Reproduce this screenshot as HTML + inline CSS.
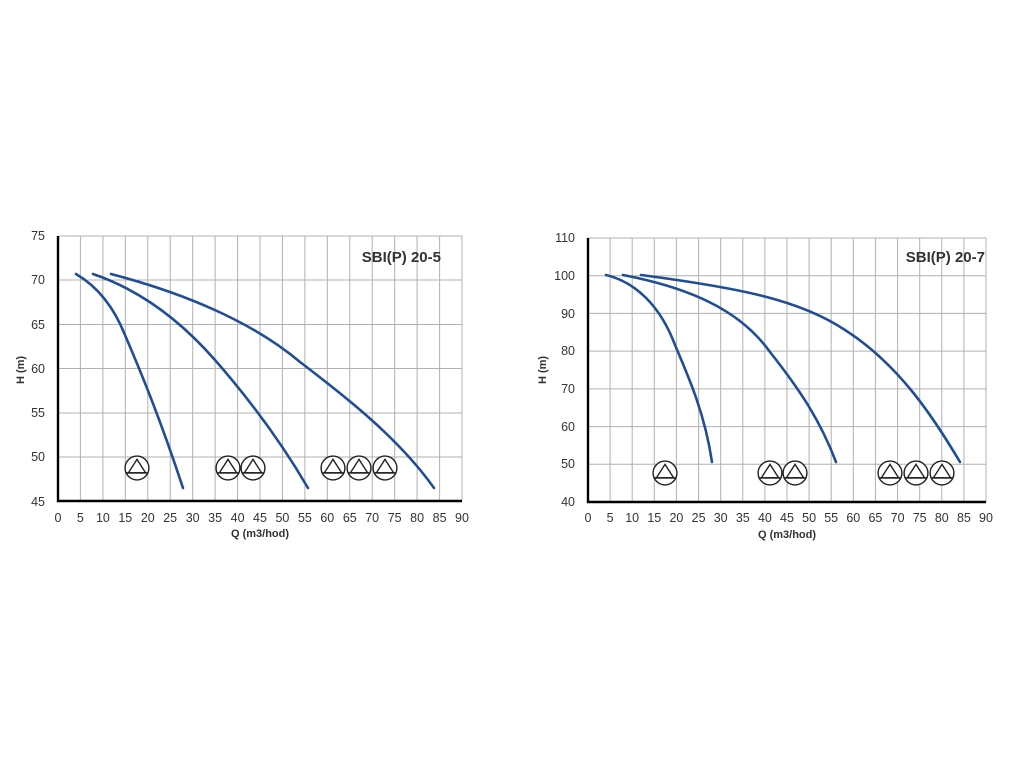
<!DOCTYPE html>
<html><head><meta charset="utf-8"><style>
html,body{margin:0;padding:0;background:#fff;}
svg{display:block;}
text{font-family:"Liberation Sans",sans-serif;fill:#333;}
</style></head><body>
<svg width="1024" height="768" viewBox="0 0 1024 768" xmlns="http://www.w3.org/2000/svg">
<defs>
<symbol id="pump" viewBox="-12 -12 24 24">
<circle cx="0" cy="0" r="11" fill="#fff" stroke="#222" stroke-width="1.3"/>
<polygon points="0,-8 -8,4.5 8,4.5" fill="none" stroke="#222" stroke-width="1.3"/>
<line x1="-10.5" y1="4.5" x2="10.5" y2="4.5" stroke="#222" stroke-width="1.3"/>
</symbol>
</defs>
<!-- LEFT CHART -->
<g stroke="#b0b0b0" stroke-width="1">
<line x1="58" y1="236" x2="462" y2="236"/><line x1="58" y1="280" x2="462" y2="280"/>
<line x1="58" y1="324.5" x2="462" y2="324.5"/><line x1="58" y1="368.5" x2="462" y2="368.5"/>
<line x1="58" y1="413" x2="462" y2="413"/><line x1="58" y1="457" x2="462" y2="457"/>
<line x1="80.4" y1="236" x2="80.4" y2="501"/><line x1="102.9" y1="236" x2="102.9" y2="501"/>
<line x1="125.3" y1="236" x2="125.3" y2="501"/><line x1="147.8" y1="236" x2="147.8" y2="501"/>
<line x1="170.2" y1="236" x2="170.2" y2="501"/><line x1="192.7" y1="236" x2="192.7" y2="501"/>
<line x1="215.1" y1="236" x2="215.1" y2="501"/><line x1="237.6" y1="236" x2="237.6" y2="501"/>
<line x1="260" y1="236" x2="260" y2="501"/><line x1="282.4" y1="236" x2="282.4" y2="501"/>
<line x1="304.9" y1="236" x2="304.9" y2="501"/><line x1="327.3" y1="236" x2="327.3" y2="501"/>
<line x1="349.8" y1="236" x2="349.8" y2="501"/><line x1="372.2" y1="236" x2="372.2" y2="501"/>
<line x1="394.7" y1="236" x2="394.7" y2="501"/><line x1="417.1" y1="236" x2="417.1" y2="501"/>
<line x1="439.6" y1="236" x2="439.6" y2="501"/><line x1="462" y1="236" x2="462" y2="501"/>
</g>
<path d="M58 236 V501 H462" fill="none" stroke="#000" stroke-width="2.4"/>
<g font-size="12.5" text-anchor="end">
<text x="45" y="240">75</text><text x="45" y="284">70</text><text x="45" y="329">65</text>
<text x="45" y="373">60</text><text x="45" y="417">55</text><text x="45" y="461">50</text><text x="45" y="506">45</text>
</g>
<g font-size="12.5" text-anchor="middle">
<text x="58" y="522">0</text><text x="80.4" y="522">5</text><text x="102.9" y="522">10</text><text x="125.3" y="522">15</text>
<text x="147.8" y="522">20</text><text x="170.2" y="522">25</text><text x="192.7" y="522">30</text><text x="215.1" y="522">35</text>
<text x="237.6" y="522">40</text><text x="260" y="522">45</text><text x="282.4" y="522">50</text><text x="304.9" y="522">55</text>
<text x="327.3" y="522">60</text><text x="349.8" y="522">65</text><text x="372.2" y="522">70</text><text x="394.7" y="522">75</text>
<text x="417.1" y="522">80</text><text x="439.6" y="522">85</text><text x="462" y="522">90</text>
</g>
<text x="260" y="537" font-size="11" font-weight="bold" text-anchor="middle" fill="#111">Q (m3/hod)</text>
<text transform="translate(24,370) rotate(-90)" font-size="11" font-weight="bold" text-anchor="middle" fill="#111">H (m)</text>
<text x="441" y="262" font-size="15" font-weight="bold" text-anchor="end" fill="#444">SBI(P) 20-5</text>
<g fill="none" stroke="#1f4e96" stroke-width="2.6" stroke-linejoin="round" stroke-linecap="round">
<path d="M76 274 C100 288 115 310 125 335 C140 370 160 418 183 488"/>
<path d="M93 274 C140 290 180 320 215 360 C250 400 280 440 308 488"/>
<path d="M111 274 C180 292 250 320 300 362 C350 400 400 440 434 488"/>
</g>
<use href="#pump" x="124" y="455" width="26" height="26"/>
<use href="#pump" x="215" y="455" width="26" height="26"/>
<use href="#pump" x="240" y="455" width="26" height="26"/>
<use href="#pump" x="320" y="455" width="26" height="26"/>
<use href="#pump" x="346" y="455" width="26" height="26"/>
<use href="#pump" x="372" y="455" width="26" height="26"/>

<!-- RIGHT CHART -->
<g stroke="#b0b0b0" stroke-width="1">
<line x1="588" y1="238" x2="986" y2="238"/><line x1="588" y1="275.7" x2="986" y2="275.7"/>
<line x1="588" y1="313.4" x2="986" y2="313.4"/><line x1="588" y1="351.1" x2="986" y2="351.1"/>
<line x1="588" y1="388.9" x2="986" y2="388.9"/><line x1="588" y1="426.6" x2="986" y2="426.6"/>
<line x1="588" y1="464.3" x2="986" y2="464.3"/>
<line x1="610.1" y1="238" x2="610.1" y2="502"/><line x1="632.2" y1="238" x2="632.2" y2="502"/>
<line x1="654.3" y1="238" x2="654.3" y2="502"/><line x1="676.4" y1="238" x2="676.4" y2="502"/>
<line x1="698.6" y1="238" x2="698.6" y2="502"/><line x1="720.7" y1="238" x2="720.7" y2="502"/>
<line x1="742.8" y1="238" x2="742.8" y2="502"/><line x1="764.9" y1="238" x2="764.9" y2="502"/>
<line x1="787" y1="238" x2="787" y2="502"/><line x1="809.1" y1="238" x2="809.1" y2="502"/>
<line x1="831.2" y1="238" x2="831.2" y2="502"/><line x1="853.3" y1="238" x2="853.3" y2="502"/>
<line x1="875.4" y1="238" x2="875.4" y2="502"/><line x1="897.6" y1="238" x2="897.6" y2="502"/>
<line x1="919.7" y1="238" x2="919.7" y2="502"/><line x1="941.8" y1="238" x2="941.8" y2="502"/>
<line x1="963.9" y1="238" x2="963.9" y2="502"/><line x1="986" y1="238" x2="986" y2="502"/>
</g>
<path d="M588 238 V502 H986" fill="none" stroke="#000" stroke-width="2.4"/>
<g font-size="12.5" text-anchor="end">
<text x="575" y="242">110</text><text x="575" y="280">100</text><text x="575" y="318">90</text>
<text x="575" y="355">80</text><text x="575" y="393">70</text><text x="575" y="431">60</text>
<text x="575" y="468">50</text><text x="575" y="506">40</text>
</g>
<g font-size="12.5" text-anchor="middle">
<text x="588" y="522">0</text><text x="610.1" y="522">5</text><text x="632.2" y="522">10</text><text x="654.3" y="522">15</text>
<text x="676.4" y="522">20</text><text x="698.6" y="522">25</text><text x="720.7" y="522">30</text><text x="742.8" y="522">35</text>
<text x="764.9" y="522">40</text><text x="787" y="522">45</text><text x="809.1" y="522">50</text><text x="831.2" y="522">55</text>
<text x="853.3" y="522">60</text><text x="875.4" y="522">65</text><text x="897.6" y="522">70</text><text x="919.7" y="522">75</text>
<text x="941.8" y="522">80</text><text x="963.9" y="522">85</text><text x="986" y="522">90</text>
</g>
<text x="787" y="538" font-size="11" font-weight="bold" text-anchor="middle" fill="#111">Q (m3/hod)</text>
<text transform="translate(546,370) rotate(-90)" font-size="11" font-weight="bold" text-anchor="middle" fill="#111">H (m)</text>
<text x="985" y="262" font-size="15" font-weight="bold" text-anchor="end" fill="#444">SBI(P) 20-7</text>
<g fill="none" stroke="#1f4e96" stroke-width="2.6" stroke-linejoin="round" stroke-linecap="round">
<path d="M606 275 C635 282 660 305 675 345 C690 380 705 415 712 462"/>
<path d="M623 275 C690 288 740 310 770 352 C800 390 820 420 836 462"/>
<path d="M641 275 C740 288 800 300 845 330 C900 365 935 420 960 462"/>
</g>
<use href="#pump" x="652" y="460" width="26" height="26"/>
<use href="#pump" x="757" y="460" width="26" height="26"/>
<use href="#pump" x="782" y="460" width="26" height="26"/>
<use href="#pump" x="877" y="460" width="26" height="26"/>
<use href="#pump" x="903" y="460" width="26" height="26"/>
<use href="#pump" x="929" y="460" width="26" height="26"/>
</svg>
</body></html>
